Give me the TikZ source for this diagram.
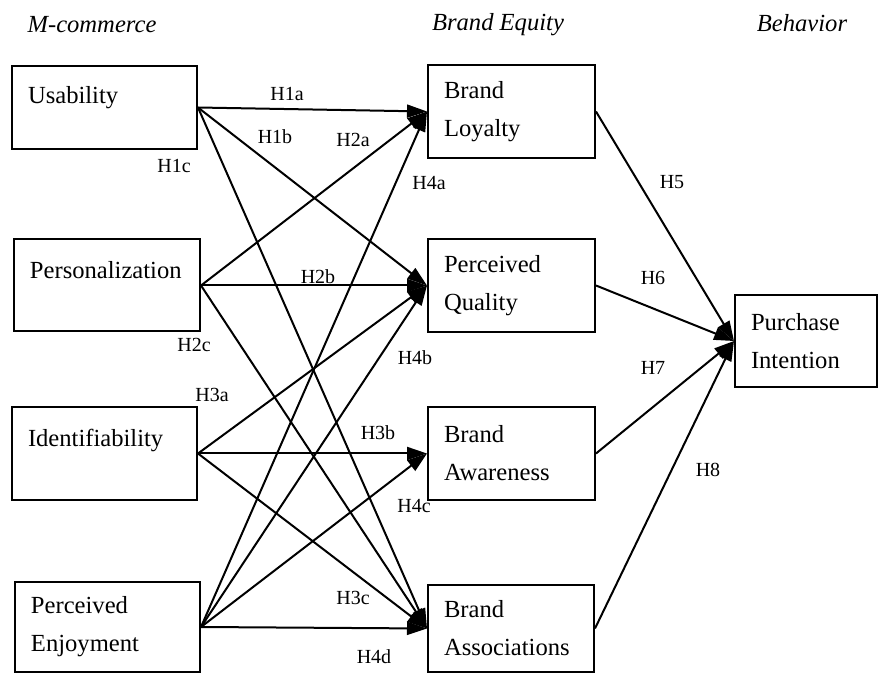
\documentclass[tikz,border=0pt]{standalone}
\usepackage{fontspec}
\setmainfont{Liberation Serif}
\usetikzlibrary{arrows.meta}
\begin{document}
\begin{tikzpicture}[x=0.5pt,y=-0.5pt,
  box/.style={draw, line width=1pt, fill=white, align=left, inner xsep=8pt, inner ysep=0pt, font=\fontsize{12.3}{19}\selectfont},
  conn/.style={line width=1pt, -{Triangle[length=10pt,width=6.5pt]}},
  hyp/.style={font=\fontsize{10}{12}\selectfont, inner sep=1pt},
  head/.style={font=\fontsize{12.3}{14}\selectfont\itshape, inner sep=1pt}]
\useasboundingbox (0,0) rectangle (880,674);

% headers
\node[head] (hm) at (92,25) {M-commerce};
\node[head] (hb) at (498,25) {Brand Equity};
\node[head] (hh) at (802,23) {Behavior};

% left boxes
\node[box, text width=76.5pt, minimum height=41.5pt] (us) at (104.5,107.5) {Usability\\[-6pt] \mbox{}};
\node[box, text width=77pt, minimum height=46pt] (pe) at (107,285.5) {Personalization\\[-3pt] \mbox{}};
\node[box, text width=76.5pt, minimum height=46.5pt] (id) at (104.5,453.5) {Identifiability\\[-3pt] \mbox{}};
\node[box, text width=76.5pt, minimum height=45pt] (en) at (107.5,627) {Perceived\\Enjoyment};

% middle boxes
\node[box, text width=67.5pt, minimum height=46.5pt] (bl) at (511.5,111.5) {Brand\\Loyalty};
\node[box, text width=67.5pt, minimum height=46.5pt] (pq) at (511.5,285.5) {Perceived\\Quality};
\node[box, text width=67.5pt, minimum height=46.5pt] (ba) at (511.5,453.5) {Brand\\Awareness};
\node[box, text width=67pt, minimum height=43.5pt] (bs) at (511,628.5) {Brand\\Associations};

% right box
\node[box, text width=55pt, minimum height=46pt] (pi) at (806,341) {Purchase\\Intention};

% connectors
\draw[conn] (us.east) -- (bl.west);
\draw[conn] (us.east) -- (pq.west);
\draw[conn] (us.east) -- (bs.west);
\draw[conn] (pe.east) -- (bl.west);
\draw[conn] (pe.east) -- (pq.west);
\draw[conn] (pe.east) -- (bs.west);
\draw[conn] (id.east) -- (pq.west);
\draw[conn] (id.east) -- (ba.west);
\draw[conn] (id.east) -- (bs.west);
\draw[conn] (en.east) -- (bl.west);
\draw[conn] (en.east) -- (pq.west);
\draw[conn] (en.east) -- (ba.west);
\draw[conn] (en.east) -- (bs.west);
\draw[conn] (bl.east) -- (pi.west);
\draw[conn] (pq.east) -- (pi.west);
\draw[conn] (ba.east) -- (pi.west);
\draw[conn] (bs.east) -- (pi.west);

% hypothesis labels
\node[hyp] (l1a) at (287,94) {H1a};
\node[hyp] (l1b) at (275,137) {H1b};
\node[hyp] (l2a) at (353,140) {H2a};
\node[hyp] (l1c) at (174,166) {H1c};
\node[hyp] (l4a) at (429,183) {H4a};
\node[hyp] (l2b) at (318,277) {H2b};
\node[hyp] (l2c) at (194,345) {H2c};
\node[hyp] (l4b) at (415,358) {H4b};
\node[hyp] (l3a) at (212,395) {H3a};
\node[hyp] (l3b) at (378,433) {H3b};
\node[hyp] (l4c) at (414,506) {H4c};
\node[hyp] (l3c) at (353,598) {H3c};
\node[hyp] (l4d) at (374,657) {H4d};
\node[hyp] (l5) at (672,182) {H5};
\node[hyp] (l6) at (653,278) {H6};
\node[hyp] (l7) at (653,368) {H7};
\node[hyp] (l8) at (708,470) {H8};
\end{tikzpicture}
\end{document}
